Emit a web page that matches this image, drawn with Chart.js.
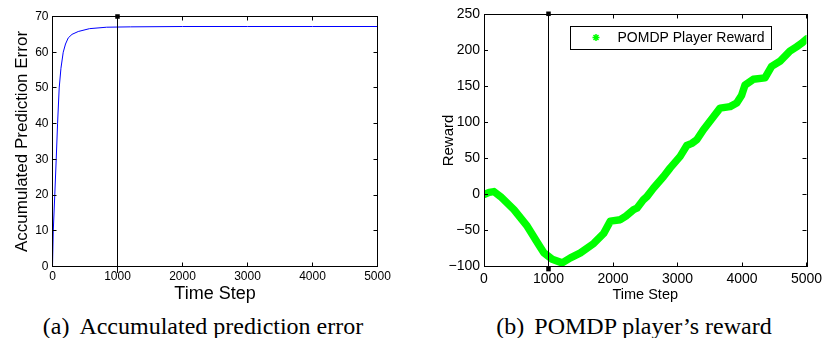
<!DOCTYPE html>
<html>
<head>
<meta charset="utf-8">
<script src="https://cdn.jsdelivr.net/npm/chart.js@4.4.0/dist/chart.umd.min.js"></script>
<style>
    body { margin: 0; background: #fff; }
    #wrap { position: relative; width: 824px; height: 338px; overflow: hidden; }
    .plot { position: absolute; top: 0; }
    .caption {
        position: absolute; top: 314px; width: 400px;
        font-family: "Liberation Serif", "Times New Roman", serif;
        font-size: 24px; line-height: 24px; text-align: center; white-space: nowrap; color: #000;
    }
    .gap { display: inline-block; width: 10px; }
</style>
</head>
<body>
<div id="wrap">
    <canvas id="errorChart" class="plot" width="412" height="310" style="left:0"></canvas>
    <canvas id="rewardChart" class="plot" width="412" height="310" style="left:412px"></canvas>
    <div class="caption" style="left:3px">(a)<span class="gap"></span>Accumulated prediction error</div>
    <div class="caption" style="left:434px">(b)<span class="gap"></span>POMDP player&#8217;s reward</div>
</div>
<script>
// (a) accumulated prediction error
var errSteps = [0, 12, 35, 57, 78, 103, 130, 165, 200, 242, 300, 396, 570, 833, 1200, 2000, 3000, 4000, 5000];
var errValues = [0, 10, 20, 30, 40, 50, 55.5, 60, 62.3, 64, 65, 65.8, 66.6, 67.0, 67.1, 67.2, 67.2, 67.2, 67.2];

// (b) POMDP player reward
var rewardSteps = [0, 80, 155, 258, 464, 670, 851, 928, 1057, 1212, 1340, 1495, 1701, 1856, 1959, 2113, 2200, 2320, 2371,
    2474, 2526, 2629, 2784, 2887, 3041, 3144, 3222, 3299, 3402, 3557, 3660, 3815, 3918, 3995, 4046, 4175, 4356,
    4459, 4588, 4742, 4845, 4923, 5000];
var rewardValues = [0, 3, 4, -3, -21, -44, -70, -81, -90, -95, -88, -81, -68, -54, -37, -35, -30, -21, -19,
    -7, -3, 9, 25, 37, 53, 68, 71, 76, 90, 108, 120, 122, 127, 138, 152, 160, 162,
    178, 185, 199, 205, 210, 216];

// vertical marker at step 1000 (ends sit just outside the axes)
var markStep = [1000, 1000];
var errMarkValues = [70, -1.7];
var rewardMarkValues = [251, -103.6];

var xTicks = { min: 0, max: 5000, step: 1000 };
var errTicks = { min: 0, max: 70, step: 10 };
var rewardTicks = { min: -100, max: 250, step: 50 };

Chart.defaults.font.family = '"Liberation Sans", Arial, Helvetica, sans-serif';
Chart.defaults.color = '#000';

function toPoints(xs, ys) {
    var pts = [];
    for (var i = 0; i < xs.length; i++) {
        pts.push({ x: xs[i], y: ys[i] });
    }
    return pts;
}

// plain numbers, matlab minus sign
function plainLabel(value) {
    return String(value).replace('-', '\u2212');
}

// matlab style box with inward ticks
var boxPlugin = {
    id: 'box',
    afterDraw: function (chart) {
        var ctx = chart.ctx;
        var a = chart.chartArea;
        var xs = chart.scales.x;
        var ys = chart.scales.y;
        var len = 4;
        ctx.save();
        ctx.strokeStyle = '#000';
        ctx.lineWidth = 1;
        ctx.beginPath();
        xs.ticks.forEach(function (t) {
            var px = Math.floor(xs.getPixelForValue(t.value)) + 0.5;
            ctx.moveTo(px, a.bottom); ctx.lineTo(px, a.bottom - len);
            ctx.moveTo(px, a.top); ctx.lineTo(px, a.top + len);
        });
        ys.ticks.forEach(function (t) {
            var py = Math.floor(ys.getPixelForValue(t.value)) + 0.5;
            ctx.moveTo(a.left, py); ctx.lineTo(a.left + len, py);
            ctx.moveTo(a.right, py); ctx.lineTo(a.right - len, py);
        });
        ctx.stroke();
        ctx.strokeRect(Math.floor(a.left) + 0.5, Math.floor(a.top) + 0.5,
            Math.round(a.right - a.left), Math.round(a.bottom - a.top));
        ctx.restore();
    }
};

// legend box drawn inside the plot area
var insideLegend = {
    id: 'insideLegend',
    afterDraw: function (chart) {
        var ctx = chart.ctx;
        var a = chart.chartArea;
        var ds = chart.data.datasets[0];
        var left = Math.round(a.left + 86), top = Math.round(a.top + 11), w = 201, h = 23;
        ctx.save();
        ctx.fillStyle = '#fff';
        ctx.fillRect(left, top, w, h);
        ctx.strokeStyle = '#000';
        ctx.lineWidth = 1;
        ctx.strokeRect(left + 0.5, top + 0.5, w, h);
        ctx.strokeStyle = ds.borderColor;
        ctx.lineWidth = 1.5;
        Chart.helpers.drawPoint(ctx, { pointStyle: 'star', radius: 3.5, borderWidth: 1.5 }, left + 26, top + h / 2);
        ctx.fillStyle = '#000';
        ctx.font = '14px "Liberation Sans", Arial, sans-serif';
        ctx.textBaseline = 'middle';
        ctx.fillText(ds.label, left + 47.5, top + h / 2 + 1);
        ctx.restore();
    }
};

function makeChart(canvasId, cfg) {
    var ctx = document.getElementById(canvasId).getContext('2d');
    return new Chart(ctx, {
        type: 'line',
        data: {
            datasets: [{
                label: cfg.label,
                data: cfg.points,
                borderColor: cfg.color,
                backgroundColor: cfg.color,
                borderWidth: cfg.width,
                borderJoinStyle: 'round',
                borderCapStyle: 'round',
                pointRadius: 0,
                tension: 0,
                order: 2
            }, {
                label: 'marker',
                data: cfg.mark,
                borderColor: '#000',
                backgroundColor: '#000',
                borderWidth: 1,
                pointStyle: 'rect',
                pointRadius: 3.2,
                pointBorderWidth: 0,
                clip: false,
                order: 1
            }]
        },
        options: {
            responsive: false,
            animation: false,
            layout: { padding: cfg.padding },
            plugins: {
                legend: { display: false },
                tooltip: { enabled: false }
            },
            scales: {
                x: {
                    type: 'linear',
                    min: xTicks.min,
                    max: xTicks.max,
                    // tick length only spaces the labels, the marks come from boxPlugin
                    grid: { display: false, drawTicks: true, tickLength: cfg.xPad },
                    border: { display: false },
                    ticks: {
                        stepSize: xTicks.step, font: { size: cfg.tickSize },
                        padding: 0, maxRotation: 0, callback: plainLabel
                    },
                    title: {
                        display: true,
                        text: 'Time Step',
                        font: { size: cfg.xTitleSize },
                        padding: { top: 0, bottom: cfg.xTitlePad }
                    },
                    afterFit: function (scale) { scale.height = cfg.xHeight; }
                },
                y: {
                    min: cfg.yTicks.min,
                    max: cfg.yTicks.max,
                    grid: { display: false, drawTicks: false },
                    border: { display: false },
                    ticks: { stepSize: cfg.yTicks.step, font: { size: cfg.tickSize }, padding: 4, callback: plainLabel },
                    title: {
                        display: true,
                        text: cfg.yTitle,
                        font: { size: cfg.yTitleSize },
                        padding: { top: cfg.yTitlePad, bottom: 0 }
                    },
                    afterFit: function (scale) { scale.width = cfg.yWidth; }
                }
            }
        },
        plugins: cfg.plugins
    });
}

makeChart('errorChart', {
    label: 'Accumulated Prediction Error',
    points: toPoints(errSteps, errValues),
    mark: toPoints(markStep, errMarkValues),
    color: '#0000ff',
    width: 1,
    padding: { left: 0, top: 16.5, right: 34.5, bottom: 0 },
    yTicks: errTicks,
    tickSize: 12,
    xPad: 3,
    xTitleSize: 18,
    xTitlePad: 5,
    xHeight: 43.5,
    yTitle: 'Accumulated Prediction Error',
    yTitleSize: 17,
    yTitlePad: 12,
    yWidth: 52.5,
    plugins: [boxPlugin]
});

makeChart('rewardChart', {
    label: 'POMDP Player Reward',
    points: toPoints(rewardSteps, rewardValues),
    mark: toPoints(markStep, rewardMarkValues),
    color: '#00ff00',
    width: 7.5,
    padding: { left: 0, top: 14.5, right: 17.5, bottom: 0 },
    yTicks: rewardTicks,
    tickSize: 14,
    xPad: 4,
    xTitleSize: 14.5,
    xTitlePad: 6,
    xHeight: 43.5,
    yTitle: 'Reward',
    yTitleSize: 15,
    yTitlePad: 28,
    yWidth: 72,
    plugins: [boxPlugin, insideLegend]
});
</script>
</body>
</html>
